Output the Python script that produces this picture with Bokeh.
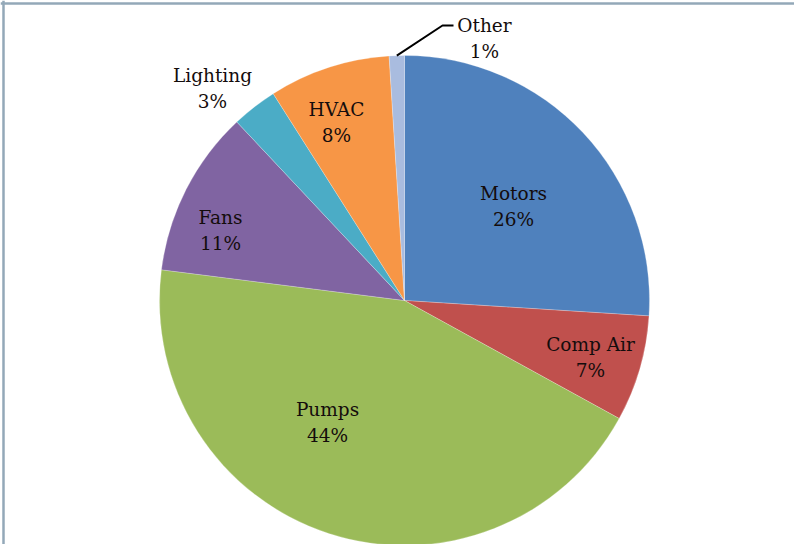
import math

from bokeh.embed import file_html
from bokeh.models import ColumnDataSource, Range1d, Span
from bokeh.plotting import figure
from bokeh.resources import INLINE
from bokeh.core.properties import value

# Share of energy use by end use (percent)
categories = ["Motors", "Comp Air", "Pumps", "Fans", "Lighting", "HVAC", "Other"]
shares = [26, 7, 44, 11, 3, 8, 1]
pct_labels = ["26%", "7%", "44%", "11%", "3%", "8%", "1%"]

colors = ["#4f81bd", "#c0504d", "#9bbb59", "#8064a2", "#4bacc6", "#f79646", "#a9bcdf"]

W, H = 794, 544
CX, CY = 404, H - 300  # pie centre in canvas units (y measured upward)
R = 245

# Label anchor points (centre x, baseline of the name line), in page pixels from the top
label_pos = [(513, 193), (590, 344), (327, 409), (220, 217), (212, 75), (336, 109), (484, 25)]
LINE_GAP = 26

total = float(sum(shares))
starts, ends, mids = [], [], []
acc = 0.0
for s in shares:
    a0 = math.pi / 2 - 2 * math.pi * acc / total
    acc += s
    a1 = math.pi / 2 - 2 * math.pi * acc / total
    starts.append(a0)
    ends.append(a1)
    mids.append((a0 + a1) / 2)

src = ColumnDataSource(dict(
    cat=categories, start=starts, end=ends, color=colors,
))

p = figure(width=W, height=H, x_range=Range1d(0, W), y_range=Range1d(0, H),
           output_backend="svg", toolbar_location=None, min_border=0,
           background_fill_color="white", border_fill_color="white")
p.axis.visible = False
p.grid.visible = False
p.outline_line_color = None

p.wedge(x=CX, y=CY, radius=R, start_angle="start", end_angle="end",
        direction="clock", fill_color="color", line_color="white",
        line_width=0.6, line_alpha=0.4, source=src)

# Leader line for the thin "Other" slice
om = mids[-1]
ox, oy = CX + R * math.cos(om), CY + R * math.sin(om)
lx, ly = label_pos[-1]
p.line(x=[ox, lx - 42, lx - 31], y=[oy, H - (ly), H - (ly)],
       line_color="black", line_width=2)

names_src = ColumnDataSource(dict(
    x=[lp[0] for lp in label_pos],
    y=[H - lp[1] for lp in label_pos],
    y2=[H - lp[1] - LINE_GAP for lp in label_pos],
    name=categories, pct=pct_labels,
))
common = dict(text_font=value("DejaVu Serif"), text_font_size="18.5px",
              text_color="#140c0c", text_align="center",
              text_baseline="alphabetic", source=names_src)
p.text(x="x", y="y", text="name", **common)
p.text(x="x", y="y2", text="pct", **common)

# Frame lines along the top and left edges
p.add_layout(Span(location=H - 3, dimension="width", line_color="#93a8b8", line_width=2.5))
p.add_layout(Span(location=3, dimension="height", line_color="#93a8b8", line_width=2.5))

open("out.html", "w").write(file_html(p, INLINE))
